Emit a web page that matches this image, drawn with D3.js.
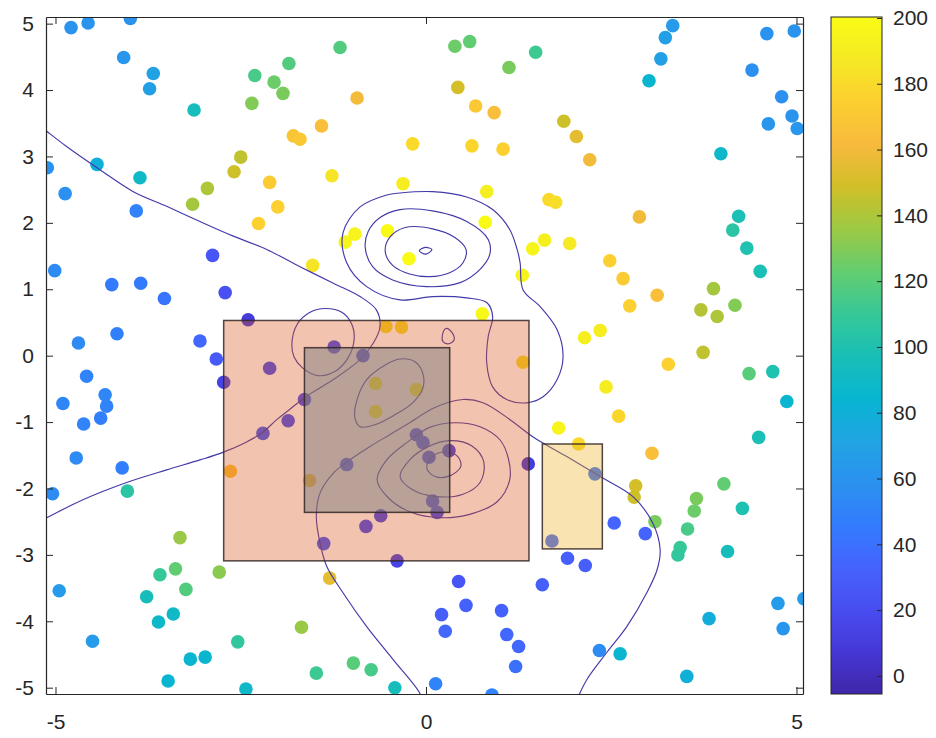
<!DOCTYPE html>
<html>
<head>
<meta charset="utf-8">
<script src="https://cdn.jsdelivr.net/npm/d3@7"></script>
<style>
  body { margin: 0; background: #fff; }
  svg { display: block; font-family: Arial, "Liberation Sans", Helvetica, sans-serif; }
</style>
</head>
<body>
<svg id="chart" width="936" height="738"></svg>
<script>
// ---- scatter samples: position and colour value ----
const ptX = [-4.79,-4.56,-3.99,-4.08,-3.68,-3.73,-3.13,-2.31,-2.05,-1.85,-1.93,-2.35,-1.16,-0.93,-1.41,-1.79,-1.70,-0.18,-2.50,-2.59,
  -2.95,-3.15,-2.11,-2.00,-2.26,-1.27,-0.31,-0.96,-1.09,-0.52,-5.11,-4.87,-4.44,-3.86,-3.91,0.39,0.59,1.12,1.48,0.43,
  0.67,0.92,1.86,2.03,2.21,0.62,1.04,0.82,1.66,1.75,2.88,0.80,1.60,1.94,1.44,3.33,3.23,3.17,3.01,4.60,
  4.97,4.40,4.80,4.94,4.62,5.01,3.98,4.22,4.14,4.33,-5.01,-4.24,-3.85,-3.53,-2.88,-2.71,-2.40,-3.05,-2.83,-2.73,
  -4.69,-4.17,-4.58,-4.90,-4.33,-4.31,-4.39,-4.62,-4.72,-4.10,-1.24,-0.85,-2.11,-1.64,-1.86,-2.20,-1.07,-2.64,-0.68,-0.68,
  -0.13,-1.53,-0.54,-0.33,-0.23,-0.13,-0.04,0.04,0.31,-1.57,0.09,0.15,-0.61,-0.81,-1.38,-0.39,-2.79,-1.30,0.44,1.30,
  0.76,2.48,2.66,2.75,3.12,2.14,2.35,3.27,3.88,3.71,3.93,4.17,3.74,4.51,4.36,4.68,4.87,4.49,1.31,2.43,
  2.60,1.79,2.06,3.05,1.38,2.28,1.70,2.54,1.91,2.15,2.83,2.81,3.09,3.65,3.62,4.02,4.27,3.53,3.43,3.40,
  4.07,2.96,1.57,0.21,0.54,1.02,0.26,1.09,1.25,1.21,0.13,0.89,2.34,2.62,3.52,3.82,4.75,5.10,4.82,-5.04,
  -4.03,-3.32,-3.38,-3.59,-3.24,-3.77,-4.95,-3.41,-3.61,-4.50,-2.54,-1.68,-3.18,-2.98,-3.48,-2.43,-1.48,-0.98,-0.74,-0.42];
const ptY = [4.94,5.01,5.08,4.49,4.25,4.02,3.70,4.22,4.12,4.40,3.95,3.80,4.64,3.88,3.46,3.31,3.26,3.19,2.99,2.77,
  2.52,2.28,2.61,2.24,1.99,2.71,2.59,1.83,1.71,1.88,2.83,2.44,2.88,2.68,2.18,4.66,4.73,4.34,4.57,4.04,
  3.76,3.66,3.53,3.30,2.95,3.16,3.11,2.47,2.35,2.31,2.09,2.01,1.74,1.69,1.61,4.97,4.79,4.47,4.14,4.85,
  4.89,4.30,3.90,3.61,3.49,3.42,3.04,2.10,1.89,1.62,1.28,1.07,1.09,0.86,1.51,0.95,0.54,0.22,-0.05,-0.40,
  0.19,0.33,-0.31,-0.72,-0.59,-0.76,-0.94,-1.03,-1.54,-1.69,0.13,0.00,-0.19,-0.66,-0.98,-1.17,-1.64,-1.74,-0.42,-0.84,
  -0.51,1.36,0.44,0.43,1.46,-1.19,-1.31,-1.53,-1.43,-1.88,-2.19,-2.36,-2.41,-2.57,-2.83,-3.09,-3.26,-3.35,-3.40,1.21,
  0.63,1.43,1.16,0.75,0.91,0.27,0.38,-0.13,1.01,0.69,0.59,0.76,0.05,1.27,-0.27,-0.24,-0.69,-1.23,-0.10,-0.47,
  -0.91,-1.09,-1.33,-1.47,-1.63,-1.78,-2.79,-2.52,-3.05,-3.16,-1.96,-2.13,-2.50,-2.15,-2.34,-1.93,-2.30,-2.61,-2.89,-3.00,
  -2.95,-2.68,-3.45,-3.90,-3.76,-3.84,-4.15,-4.20,-4.38,-4.68,-4.94,-5.11,-4.44,-4.49,-4.83,-3.96,-3.73,-3.66,-4.11,-2.08,
  -2.04,-2.74,-3.21,-3.30,-3.52,-3.63,-3.54,-3.89,-4.01,-4.30,-4.31,-4.09,-4.57,-4.54,-4.90,-5.02,-4.78,-4.63,-4.73,-5.00];
const ptV = [60,60,60,62,70,68,95,115,125,118,128,130,118,160,165,168,170,180,145,148,
  140,138,172,175,175,185,190,195,195,200,60,58,80,90,50,125,122,128,112,150,
  170,165,148,155,160,178,175,192,180,182,160,200,192,188,195,65,68,68,85,60,
  60,58,58,60,62,62,88,98,105,100,55,45,45,42,25,22,10,35,28,15,
  55,48,50,52,52,50,48,50,55,48,20,22,20,20,22,28,28,168,195,195,
  195,185,182,182,200,22,22,20,15,170,22,20,18,20,28,15,132,155,25,195,
  198,175,172,175,165,192,190,175,138,142,140,130,145,98,120,100,85,98,182,190,
  178,195,180,165,10,40,35,33,30,30,150,148,128,128,125,122,100,115,110,108,
  95,33,30,30,32,32,35,35,35,40,50,50,55,85,80,78,65,65,62,55,
  105,135,122,110,118,95,65,90,88,65,108,135,85,85,85,88,112,120,115,95];

// ---- overlaid boxes: [xmin, xmax, ymin, ymax] ----
const boxOuter = [-2.73, 1.39, -3.09, 0.53];
const boxInner = [-1.64, 0.32, -2.36, 0.12];
const boxSide  = [1.57, 2.38, -2.91, -1.33];

// ---- contour lines (x, y pairs) ----
const lineLeft = [[-5.20,3.45],[-5.13,3.39],[-4.85,3.15],[-4.40,2.80],[-3.95,2.47],[-3.50,2.25],[-3.05,2.02],[-2.60,1.80],[-2.15,1.60],
  [-1.70,1.34],[-1.25,1.09],[-0.89,0.89],[-0.67,0.69],[-0.62,0.44],[-0.71,0.19],[-0.89,-0.06],[-1.25,-0.36],[-1.61,-0.61],
  [-1.84,-0.81],[-2.01,-0.96],[-2.21,-1.16],[-2.44,-1.31],[-2.75,-1.46],[-3.05,-1.57],[-3.50,-1.72],[-4.04,-1.91],
  [-4.63,-2.17],[-5.12,-2.44],[-5.20,-2.48]];
const lineLower = [[-0.06,-5.20],[-0.08,-5.09],[-0.44,-4.58],[-0.80,-4.08],[-1.12,-3.57],[-1.34,-3.17],[-1.43,-2.82],[-1.48,-2.42],
  [-1.43,-2.07],[-1.25,-1.77],[-1.03,-1.57],[-0.76,-1.37],[-0.49,-1.19],[-0.22,-1.01],[0.12,-0.78],[0.50,-0.66],[0.77,-0.71],
  [1.13,-0.96],[1.44,-1.22],[1.90,-1.52],[2.35,-1.82],[2.79,-2.12],[3.06,-2.52],[3.16,-2.92],[3.12,-3.22],[2.98,-3.57],
  [2.71,-4.08],[2.44,-4.47],[2.17,-4.88],[2.03,-5.20]];
const loopUpper = [[-1.12,1.85],[-1.07,1.40],[-0.80,1.04],[-0.35,0.84],[0.09,0.89],[0.55,0.87],[0.82,0.80],[0.90,0.59],[0.84,0.29],
  [0.82,-0.11],[0.90,-0.47],[1.09,-0.66],[1.36,-0.71],[1.58,-0.62],[1.77,-0.36],[1.85,-0.02],[1.77,0.39],[1.54,0.74],
  [1.31,0.99],[1.27,1.40],[1.23,1.60],[1.13,1.90],[0.90,2.20],[0.55,2.39],[0.09,2.47],[-0.35,2.45],[-0.53,2.42],[-0.89,2.24]];
const ringTop1 = [[-0.82,1.63],[-0.78,1.87],[-0.62,2.08],[-0.35,2.20],[0.09,2.18],[0.55,2.02],[0.84,1.75],[0.86,1.52],
  [0.73,1.30],[0.46,1.10],[0.01,1.04],[-0.45,1.14],[-0.72,1.34]];
const ringTop2 = [[-0.55,1.57],[-0.49,1.78],[-0.28,1.93],[0.09,1.91],[0.39,1.78],[0.54,1.60],[0.50,1.40],[0.32,1.25],
  [0.05,1.19],[-0.22,1.23],[-0.45,1.36]];
const ringTop3 = [[-0.09,1.58],[-0.01,1.63],[0.08,1.60],[0.00,1.53]];
const ovalLeft = [[-1.81,0.17],[-1.74,0.47],[-1.57,0.65],[-1.36,0.71],[-1.13,0.65],[-1.00,0.47],[-0.97,0.24],[-1.05,-0.03],
  [-1.23,-0.24],[-1.46,-0.30],[-1.67,-0.18],[-1.78,-0.02]];
const ovalMid = [[-0.96,-0.93],[-0.93,-0.66],[-0.80,-0.36],[-0.55,-0.14],[-0.35,-0.05],[-0.15,-0.09],[-0.05,-0.24],
  [-0.04,-0.48],[-0.18,-0.71],[-0.42,-0.89],[-0.69,-1.04],[-0.89,-1.07]];
const dropSmall = [[0.27,0.41],[0.35,0.35],[0.38,0.24],[0.31,0.18],[0.23,0.21],[0.22,0.30]];
const ringLow1 = [[-0.66,-1.87],[-0.53,-1.57],[-0.26,-1.31],[0.05,-1.08],[0.39,-1.01],[0.73,-1.07],[1.00,-1.27],[1.11,-1.54],
  [1.13,-1.87],[0.96,-2.20],[0.59,-2.39],[0.19,-2.44],[-0.22,-2.35],[-0.51,-2.14]];
const ringLow2 = [[-0.35,-1.82],[-0.22,-1.57],[0.03,-1.37],[0.32,-1.28],[0.62,-1.36],[0.78,-1.60],[0.73,-1.91],[0.49,-2.09],
  [0.12,-2.12],[-0.18,-2.02]];
const ringLow3 = [[0.01,-1.69],[0.08,-1.52],[0.26,-1.45],[0.43,-1.52],[0.47,-1.67],[0.32,-1.81],[0.12,-1.82]];

// ---- axis ticks ----
const xTicks = [-5, 0, 5];
const yTicks = [-5, -4, -3, -2, -1, 0, 1, 2, 3, 4, 5];
const cTicks = [0, 20, 40, 60, 80, 100, 120, 140, 160, 180, 200];

// colormap anchors (parula)
const parula = [[62,38,168],[69,55,213],[72,77,240],[69,99,253],[50,124,252],[43,145,239],[32,165,227],[8,181,208],
  [25,191,182],[55,200,151],[100,205,111],[157,201,67],[209,191,39],[248,186,61],[252,207,48],[245,233,36],[249,251,21]];

const svg = d3.select("#chart");
const L = 46, T = 17, R = 803, B = 694;
const axisColor = "#262626";
const fontStack = "Arial, 'Liberation Sans', Helvetica, sans-serif";
const plain = d => String(d);   // ASCII hyphen for negatives

const x = d3.scaleLinear().domain([-5.128, 5.088]).range([L, R]);
const y = d3.scaleLinear().domain([-5.095, 5.10]).range([B, T]);
const cDomain = [-5.5, 200.3];
const cScale = d3.scaleLinear().domain(cDomain).range([B, T]);

const stops = parula.map(c => d3.rgb(c[0], c[1], c[2]));
function parulaAt(t) {
  t = Math.max(0, Math.min(1, t));
  const n = stops.length - 1;
  const i = Math.min(n - 1, Math.floor(t * n));
  const f = t * n - i;
  return d3.interpolateRgb(stops[i], stops[i + 1])(f);
}
const colorOf = v => parulaAt((v - cDomain[0]) / (cDomain[1] - cDomain[0]));

const defs = svg.append("defs");
defs.append("clipPath").attr("id", "plotClip")
  .append("rect").attr("x", L).attr("y", T).attr("width", R - L).attr("height", B - T);

const plot = svg.append("g").attr("clip-path", "url(#plotClip)");

// scatter
const pts = ptX.map((d, i) => ({ x: d, y: ptY[i], v: ptV[i] }));
plot.append("g").selectAll("circle").data(pts).join("circle")
  .attr("cx", d => x(d.x)).attr("cy", d => y(d.y)).attr("r", 6.8)
  .attr("fill", d => colorOf(d.v));

// contours
const openLines = [lineLeft, lineLower];
const closedLines = [loopUpper, ringTop1, ringTop2, ringTop3, ovalLeft, ovalMid, dropSmall, ringLow1, ringLow2, ringLow3];
const lineOpen = d3.line().x(d => x(d[0])).y(d => y(d[1])).curve(d3.curveCatmullRom.alpha(0.5));
const lineClosed = d3.line().x(d => x(d[0])).y(d => y(d[1])).curve(d3.curveCatmullRomClosed.alpha(0.5));
const cg = plot.append("g").attr("fill", "none").attr("stroke", "rgb(66,58,168)").attr("stroke-width", 1.15);
openLines.forEach(p => cg.append("path").attr("d", lineOpen(p)));
closedLines.forEach(p => cg.append("path").attr("d", lineClosed(p)));

// translucent boxes
const boxes = [
  { b: boxOuter, fill: "rgb(217,83,25)", a: 0.35 },
  { b: boxInner, fill: "rgb(128,128,128)", a: 0.5 },
  { b: boxSide, fill: "rgb(237,177,32)", a: 0.35 }
];
plot.append("g").selectAll("rect").data(boxes).join("rect")
  .attr("x", d => x(d.b[0])).attr("y", d => y(d.b[3]))
  .attr("width", d => x(d.b[1]) - x(d.b[0])).attr("height", d => y(d.b[2]) - y(d.b[3]))
  .attr("fill", d => d.fill).attr("fill-opacity", d => d.a)
  .attr("stroke", "rgba(50,38,36,0.85)").attr("stroke-width", 1.5);

// axes (box with inward ticks)
function styleAxis(g) {
  g.selectAll(".domain").attr("stroke", axisColor).attr("stroke-width", 1.2);
  g.selectAll(".tick line").attr("stroke", axisColor).attr("stroke-width", 1);
  g.selectAll(".tick text").attr("fill", axisColor).attr("font-size", 21).attr("font-family", fontStack);
}
svg.append("g").attr("transform", `translate(0,${B})`)
  .call(d3.axisBottom(x).tickValues(xTicks).tickSize(-7).tickSizeOuter(0).tickPadding(20).tickFormat(plain))
  .call(styleAxis);
svg.append("g").attr("transform", `translate(0,${T})`)
  .call(d3.axisTop(x).tickValues(xTicks).tickSize(-7).tickSizeOuter(0).tickFormat(""))
  .call(styleAxis);
svg.append("g").attr("transform", `translate(${L},0)`)
  .call(d3.axisLeft(y).tickValues(yTicks).tickSize(-7).tickSizeOuter(0).tickPadding(12).tickFormat(plain))
  .call(styleAxis);
svg.append("g").attr("transform", `translate(${R},0)`)
  .call(d3.axisRight(y).tickValues(yTicks).tickSize(-7).tickSizeOuter(0).tickFormat(""))
  .call(styleAxis);

// colour bar
const CL = 831, CR = 882;
const grad = defs.append("linearGradient").attr("id", "cbGrad")
  .attr("x1", 0).attr("y1", 1).attr("x2", 0).attr("y2", 0);
d3.range(0, 1.0001, 1 / 64).forEach(t => {
  grad.append("stop").attr("offset", t).attr("stop-color", parulaAt(t));
});
svg.append("rect").attr("x", CL).attr("y", T).attr("width", CR - CL).attr("height", B - T)
  .attr("fill", "url(#cbGrad)").attr("stroke", axisColor).attr("stroke-width", 1);
svg.append("g").attr("transform", `translate(${CR},0)`)
  .call(d3.axisRight(cScale).tickValues(cTicks).tickSize(-5).tickSizeOuter(0).tickPadding(11).tickFormat(plain))
  .call(g => g.select(".domain").remove())
  .call(styleAxis);
</script>
</body>
</html>
